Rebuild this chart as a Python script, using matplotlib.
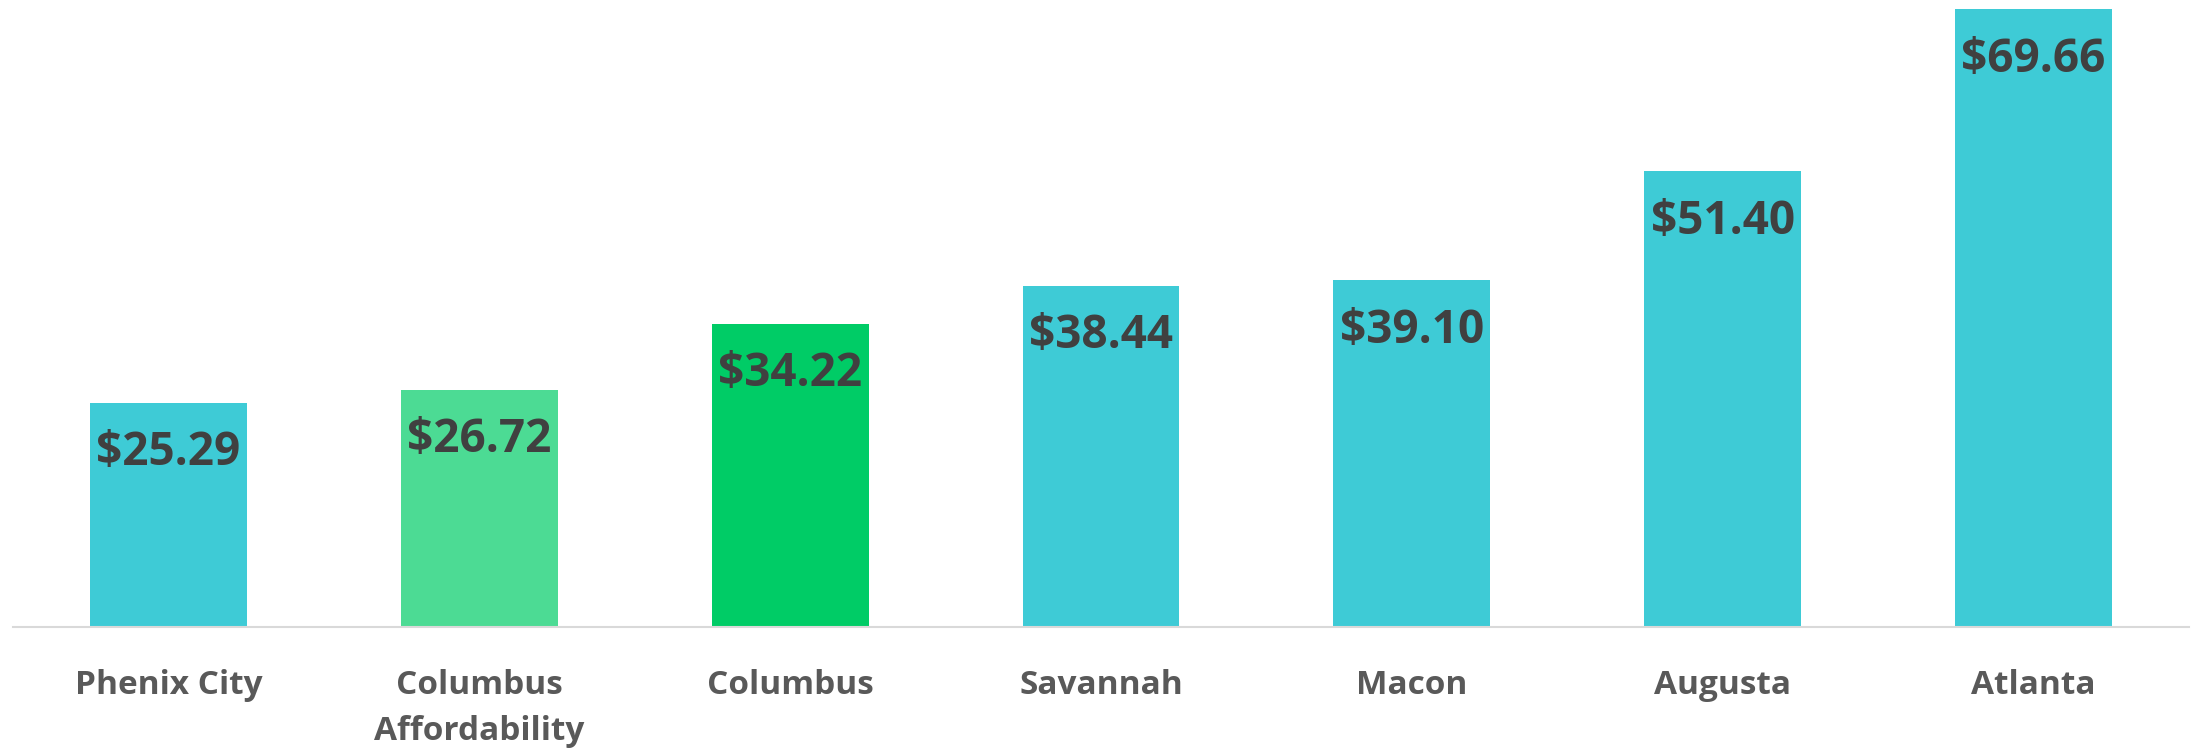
import matplotlib.pyplot as plt

cities = ['Phenix City', 'Columbus\nAffordability', 'Columbus', 'Savannah', 'Macon', 'Augusta', 'Atlanta']
values = [25.29, 26.72, 34.22, 38.44, 39.10, 51.40, 69.66]
colors = ['#3ECBD6', '#4CDB94', '#00CC66', '#3ECBD6', '#3ECBD6', '#3ECBD6', '#3ECBD6']

plt.rcParams['font.family'] = ['Open Sans', 'DejaVu Sans']

fig = plt.figure(figsize=(21.96, 7.5), dpi=100)
ax = fig.add_axes([13 / 2196, 123 / 750, 2176 / 2196, 627 / 750])

x = list(range(len(cities)))
bars = ax.bar(x, values, width=0.505, color=colors)

for xi, v in zip(x, values):
    ax.annotate(f'${v:.2f}', xy=(xi, v), xytext=(0, -19), textcoords='offset points',
                ha='center', va='top', fontsize=33, fontweight='bold', color='#404040')

ax.set_xlim(-0.5, 6.5)
ax.set_ylim(0, 70.7)
ax.set_xticks(x)
ax.set_xticklabels(cities, fontsize=24, fontweight='bold', color='#595959', linespacing=1.52)
ax.tick_params(axis='x', length=0, pad=30)
ax.set_yticks([])
for s in ['top', 'right', 'left']:
    ax.spines[s].set_visible(False)
ax.spines['bottom'].set_color('#D9D9D9')
ax.spines['bottom'].set_linewidth(1.5)

plt.savefig('out.png', dpi=100)
